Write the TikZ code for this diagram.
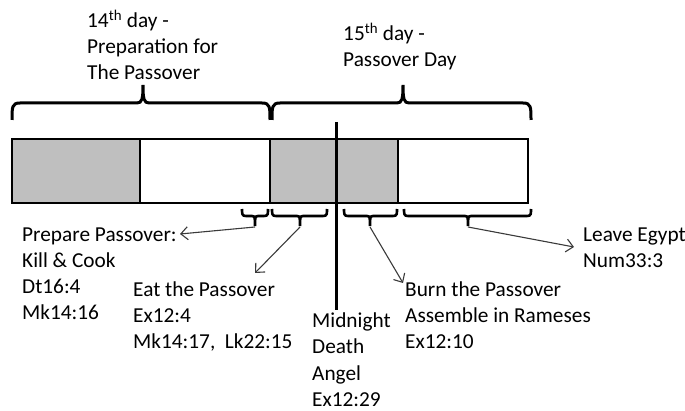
\documentclass[tikz,border=0pt]{standalone}
\usepackage{fontspec}
\setmainfont{Carlito}
\usetikzlibrary{arrows.meta}
\definecolor{boxgray}{HTML}{BFBFBF}
\definecolor{ptrgray}{HTML}{3A3A3A}
\newcommand\BigBr[3]{%
  \draw[bigbrace] (#1,120) .. controls (#1,107) and (#1,103) .. (#1+8,103)
    -- (#2-6,103) .. controls (#2-1,103) and (#2,99) .. (#2,85)
    .. controls (#2,99) and (#2+1,103) .. (#2+6,103)
    -- (#3-8,103) .. controls (#3,103) and (#3,107) .. (#3,120);}
\newcommand\SmBr[3]{%
  \draw[smallbrace] (#1,209) .. controls (#1,214) and (#1,216) .. (#1+4,216)
    -- (#2-3,216) .. controls (#2,216) and (#2,218) .. (#2,226)
    .. controls (#2,218) and (#2,216) .. (#2+3,216)
    -- (#3-4,216) .. controls (#3,216) and (#3,214) .. (#3,209);}
\begin{document}
\begin{tikzpicture}[x=1pt,y=-1pt,
  lbl/.style={font=\fontsize{21.3}{26}\selectfont, inner sep=0pt, align=left, anchor=base west},
  barline/.style={line width=2.4pt},
  bigbrace/.style={line width=3pt},
  smallbrace/.style={line width=2.6pt},
  pointer/.style={draw=ptrgray, line width=1.1pt, -{Straight Barb[length=7pt,width=13pt]}}]
\useasboundingbox (0,0) rectangle (685,411);
% bar
\fill[boxgray] (12,139) rectangle (140,203);
\fill[boxgray] (270,139) rectangle (398,203);
\draw[barline] (12,139) rectangle (528,203);
\draw[barline] (140,139) -- (140,203);
\draw[barline] (270,139) -- (270,203);
\draw[barline] (398,139) -- (398,203);
% midnight line
\draw[line width=3pt] (336,122) -- (336,310);
% big braces
\BigBr{12}{143}{270}
\BigBr{272}{403}{531}
% small braces
\SmBr{242}{255}{268}
\SmBr{272}{300}{327}
\SmBr{344}{370}{397}
\SmBr{404}{468}{531}
\coordinate (tA) at (255,227);
\coordinate (tB) at (300,227);
\coordinate (tC) at (370,227);
\coordinate (tD) at (468,227);
% texts (anchor = baseline of the last line)
\node[lbl] (d14) at (87,80) {14\textsuperscript{th} day -\\Preparation for\\The Passover};
\node[lbl] (d15) at (343,67) {15\textsuperscript{th} day -\\Passover Day};
\node[lbl] (pp) at (22,320) {Prepare Passover:\\Kill \& Cook\\Dt16:4\\Mk14:16};
\node[lbl] (eat) at (133,348.5) {Eat the Passover\\Ex12:4\\Mk14:17,\ \ Lk22:15};
\node[lbl] (mid) at (312,406) {Midnight\\Death\\Angel\\Ex12:29};
\node[lbl] (burn) at (405,348.5) {Burn the Passover\\Assemble in Rameses\\Ex12:10};
\node[lbl] (leave) at (583,268) {Leave Egypt\\Num33:3};
\coordinate (eA) at (180,234);
\coordinate (eB) at (255,273);
\coordinate (eC) at (403,283);
\coordinate (eD) at (574,247);
\draw[pointer] (tA) -- (eA);
\draw[pointer] (tB) -- (eB);
\draw[pointer] (tC) -- (eC);
\draw[pointer] (tD) -- (eD);
\end{tikzpicture}
\end{document}
